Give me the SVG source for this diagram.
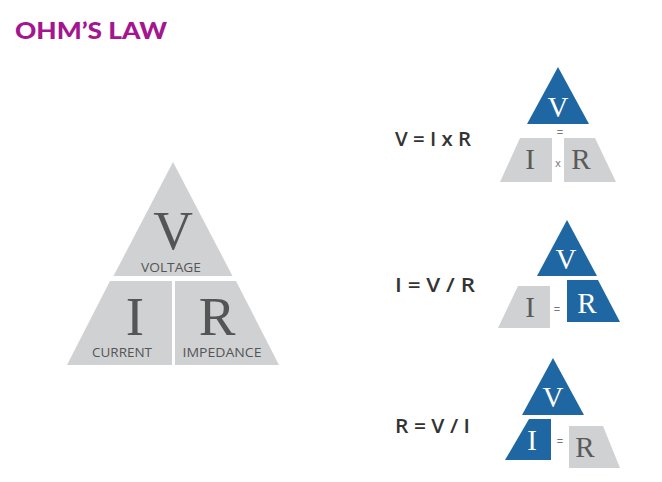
<svg xmlns="http://www.w3.org/2000/svg" width="662" height="482" viewBox="0 0 662 482">
<style>
.g{fill:#d0d1d3}
.b{fill:#1f67a3}
.serif{font-family:"Liberation Serif","Times New Roman",serif;text-anchor:middle}
.big{font-size:55px;fill:#555}
.sm{font-size:29px}
.dk{fill:#5a5a5a}
.wt{fill:#ffffff}
.lab{font-family:"Open Sans","Liberation Sans",sans-serif;font-size:12px;fill:#555;text-anchor:middle}
.eq{font-family:"Open Sans","Liberation Sans",sans-serif;font-weight:600;font-size:20px;fill:#333}
.op{font-family:"Liberation Sans",sans-serif;font-size:11px;fill:#777;text-anchor:middle}
.title{font-family:Lato,"Liberation Sans",sans-serif;font-weight:900;font-size:22px;fill:#a3168f}
</style>
<rect width="662" height="482" fill="#ffffff"/>
<text class="title" x="15" y="39" textLength="152" lengthAdjust="spacingAndGlyphs">OHM’S LAW</text>

<g id="main-triangle">
  <g id="voltage">
    <polygon class="g" points="173,162 232.5,276 113.5,276"/>
    <text class="serif big" x="173" y="249">V</text>
    <text class="lab" x="171" y="272" textLength="60" lengthAdjust="spacingAndGlyphs">VOLTAGE</text>
  </g>
  <g id="current">
    <polygon class="g" points="110,281 172,281 172,365 67,365"/>
    <text class="serif big" x="135" y="335">I</text>
    <text class="lab" x="122" y="357" textLength="60" lengthAdjust="spacingAndGlyphs">CURRENT</text>
  </g>
  <g id="impedance">
    <polygon class="g" points="175,281 236,281 279,365 175,365"/>
    <text class="serif big" x="217" y="335">R</text>
    <text class="lab" x="222" y="357" textLength="79" lengthAdjust="spacingAndGlyphs">IMPEDANCE</text>
  </g>
</g>

<g id="eq-v">
  <text class="eq" x="395" y="146" textLength="76" lengthAdjust="spacingAndGlyphs">V = I x R</text>
  <polygon class="b" points="558,67 589,124 527,124"/>
  <text class="serif sm wt" x="558" y="117">V</text>
  <text class="op" x="560" y="136">=</text>
  <polygon class="g" points="520,138 552,138 552,182 500,182"/>
  <text class="serif sm dk" x="530" y="169">I</text>
  <text class="op" x="558" y="167">x</text>
  <polygon class="g" points="564,138 595,138 616,182 564,182"/>
  <text class="serif sm dk" x="581" y="169">R</text>
</g>

<g id="eq-i">
  <text class="eq" x="395" y="292" textLength="80" lengthAdjust="spacingAndGlyphs">I =  V / R</text>
  <polygon class="b" points="567,220 597,276 537,276"/>
  <text class="serif sm wt" x="566" y="269">V</text>
  <polygon class="b" points="567,280 598,280 620,322 567,322"/>
  <text class="serif sm wt" x="587" y="313">R</text>
  <polygon class="g" points="518,286 550,286 550,328 498,328"/>
  <text class="serif sm dk" x="530" y="317">I</text>
  <text class="op" x="557" y="313">=</text>
</g>

<g id="eq-r">
  <text class="eq" x="395" y="433" textLength="75" lengthAdjust="spacingAndGlyphs">R = V / I</text>
  <polygon class="b" points="553,358 584,415 522,415"/>
  <text class="serif sm wt" x="553" y="407">V</text>
  <polygon class="b" points="529,419 551,419 551,460 505,460"/>
  <text class="serif sm wt" x="532" y="450">I</text>
  <text class="op" x="560" y="445">=</text>
  <polygon class="g" points="569,426 603,426 620,468 569,468"/>
  <text class="serif sm dk" x="585" y="457">R</text>
</g>
</svg>
